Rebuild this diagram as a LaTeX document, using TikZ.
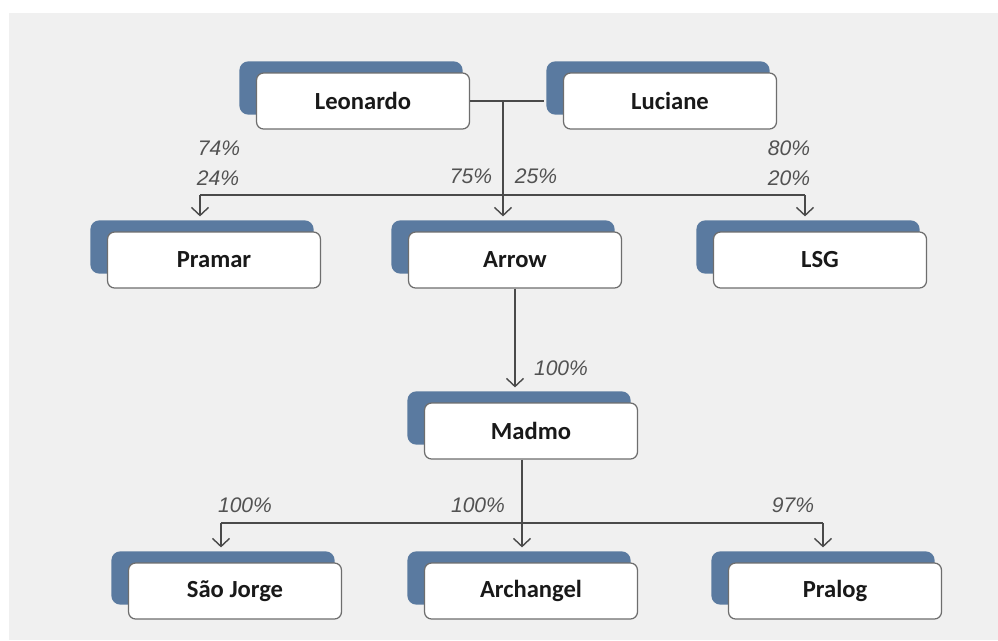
\documentclass[tikz,border=0pt]{standalone}
\usepackage{fontspec}
\setmainfont{Carlito}
\newfontfamily\pctfont{Liberation Sans}
\usetikzlibrary{arrows.meta,backgrounds}

\definecolor{boxblue}{HTML}{5A7AA0}
\definecolor{panelgray}{HTML}{F0F0F0}
\definecolor{linegray}{HTML}{4A4A4A}
\definecolor{framegray}{HTML}{6E6E6E}

\tikzset{
  firm/.style={draw=framegray, line width=0.7pt, fill=white, rounded corners=4pt,
    minimum width=4.26cm, minimum height=1.12cm, text=black!90,
    font=\bfseries\fontsize{14}{16}\selectfont},
  share/.style={font=\pctfont\itshape\fontsize{12}{14}\selectfont, text=black!68},
  link/.style={draw=linegray, line width=0.8pt},
  flow/.style={link, shorten >=0.3cm, -{Straight Barb[length=1.6mm,width=3.4mm]}}
}

\begin{document}
\begin{tikzpicture}[x=0.02cm,y=-0.02cm]
	\useasboundingbox (0,0) rectangle (998,640);

	% owners
	\node[firm] (leonardo) at (363,101) {Leonardo};
	\node[firm] (luciane) at (670,101) {Luciane};

	% first level
	\node[firm] (pramar) at (214,260) {Pramar};
	\node[firm] (arrowc) at (515,260) {Arrow};
	\node[firm] (lsg) at (820,260) {LSG};

	\node[firm] (madmo) at (531,431) {Madmo};

	% second level
	\node[firm] (saojorge) at (235,591) {São Jorge};
	\node[firm] (archangel) at (531,591) {Archangel};
	\node[firm] (pralog) at (835,591) {Pralog};

	% panel and blue backs
	\begin{scope}[on background layer]
		\fill[panelgray] (9,13) rectangle (998,640);
		\foreach \n in {leonardo,luciane,pramar,arrowc,lsg,madmo,saojorge,archangel,pralog}
			\fill[boxblue, rounded corners=5pt] ([xshift=-0.33cm,yshift=0.22cm]\n.north west)
				rectangle ([xshift=-0.15cm,yshift=0.30cm]\n.south east);
	\end{scope}

	% connectors, top
	\coordinate (join) at (503,101);
	\coordinate (barL) at (200,195);
	\coordinate (barR) at (805,195);
	\draw[link] (leonardo.east) -- ([xshift=-0.38cm]luciane.west);
	\draw[flow] (join) -- (join |- arrowc.north);
	\draw[link] (barL) -- (barR);
	\draw[flow] (barL) -- (barL |- pramar.north);
	\draw[flow] (barR) -- (barR |- lsg.north);
	\draw[flow] (arrowc.south) -- (arrowc.south |- madmo.north);

	% connectors, bottom
	\coordinate (hub) at (522,523);
	\coordinate (subL) at (221,523);
	\coordinate (subR) at (823,523);
	\draw[flow] (hub |- madmo.south) -- (hub |- archangel.north);
	\draw[link] (subL) -- (subR);
	\draw[flow] (subL) -- (subL |- saojorge.north);
	\draw[flow] (subR) -- (subR |- pralog.north);

	% shares
	\node[share] (l74) at (219,148) {74\%};
	\node[share] (l24) at (218,178) {24\%};
	\node[share] (l75) at (471,176) {75\%};
	\node[share] (l25) at (536,176) {25\%};
	\node[share] (l80) at (789,148) {80\%};
	\node[share] (l20) at (789,178) {20\%};
	\node[share] (lmad) at (561,368) {100\%};
	\node[share] (lsj) at (245,505) {100\%};
	\node[share] (lar) at (478,505) {100\%};
	\node[share] (lpr) at (793,505) {97\%};
\end{tikzpicture}
\end{document}
